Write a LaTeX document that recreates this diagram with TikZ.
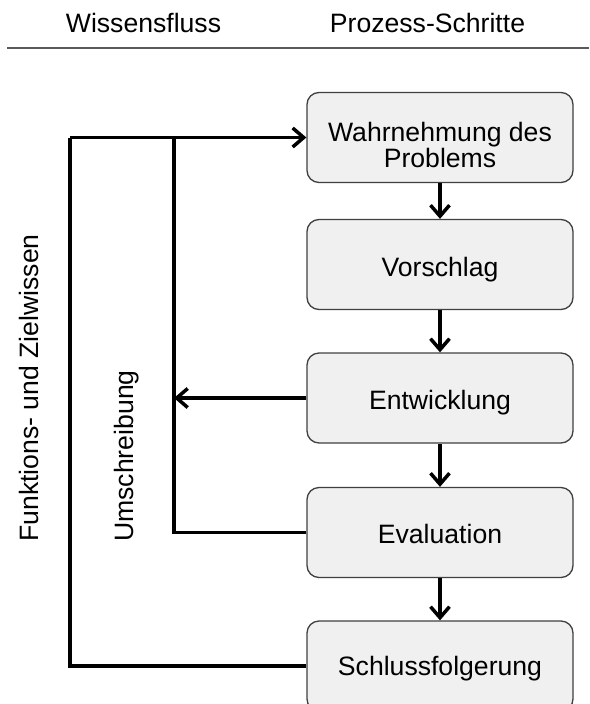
\documentclass[tikz,border=0pt]{standalone}
\usepackage{fontspec}
\setmainfont{Liberation Sans}
\usetikzlibrary{arrows.meta}
\definecolor{boxfill}{HTML}{F0F0F0}
\definecolor{boxline}{HTML}{404040}
\definecolor{rulegray}{HTML}{5A5A5A}
\tikzset{
  stepbox/.style={draw=boxline, line width=1.3pt, fill=boxfill, rounded corners=12pt,
    minimum width=266pt, minimum height=90pt, inner sep=0pt},
  steptext/.style={font=\fontsize{26.6}{27}\selectfont, inner sep=0pt, anchor=base},
  headtext/.style={font=\fontsize{26.6}{27}\selectfont, inner sep=0pt, anchor=base},
  sidetext/.style={font=\fontsize{26.6}{27}\selectfont, inner sep=0pt, rotate=90, anchor=base west},
  flow/.style={line width=3.5pt, -{Straight Barb[length=11pt, width=19pt, line width=3.5pt]}},
  link/.style={line width=3.5pt},
}
\begin{document}
\begin{tikzpicture}[x=1pt, y=-1pt]
  \useasboundingbox (0,0) rectangle (589,704);

  % column headings and rule
  \node[headtext] (hwf) at (143.5,32) {Wissensfluss};
  \node[headtext] (hps) at (427.5,32) {Prozess-Schritte};
  \coordinate (rl) at (7,48);
  \coordinate (rr) at (589,48);
  \draw[rulegray, line width=2pt] (rl) -- (rr);

  % process steps
  \node[stepbox] (b1) at (440,137.5) {};
  \node[stepbox] (b2) at (440,264.5) {};
  \node[stepbox] (b3) at (440,398) {};
  \node[stepbox] (b4) at (440,532.5) {};
  \node[stepbox] (b5) at (440,666) {};

  \node[steptext] (t1a) at (440,141) {Wahrnehmung des};
  \node[steptext] (t1b) at (440,167.7) {Problems};
  \node[steptext] (t2) at (440,276.5) {Vorschlag};
  \node[steptext] (t3) at (440,409) {Entwicklung};
  \node[steptext] (t4) at (440,543) {Evaluation};
  \node[steptext] (t5) at (440,675.5) {Schlussfolgerung};

  % step sequence
  \draw[flow] (b1.south) -- (b2.north);
  \draw[flow] (b2.south) -- (b3.north);
  \draw[flow] (b3.south) -- (b4.north);
  \draw[flow] (b4.south) -- (b5.north);

  % feedback paths
  \coordinate (fk) at (70,137.5);
  \coordinate (um) at (174,137.5);
  \draw[link] (b5.west) -| (fk);
  \draw[flow] (fk) -- (b1.west);
  \draw[link] (b4.west) -| (um);
  \draw[flow] (b3.west) -- (um |- b3.west);

  % side labels
  \node[sidetext] (lfz) at (38,542) {Funktions- und Zielwissen};
  \node[sidetext] (lum) at (133,542) {Umschreibung};
\end{tikzpicture}
\end{document}
